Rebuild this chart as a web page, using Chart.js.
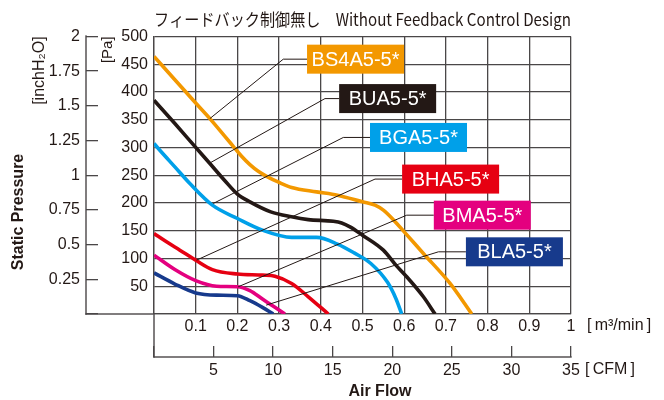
<!DOCTYPE html>
<html>
<head>
<meta charset="utf-8">
<script src="https://cdn.jsdelivr.net/npm/chart.js@4.4.1/dist/chart.umd.min.js"></script>
<style>
  html, body { margin: 0; padding: 0; background: #fff; }
</style>
</head>
<body>
<canvas id="fanChart" width="664" height="400"></canvas>
<script>
// air flow [m3/min] and static pressure [Pa]
const bs4aFlow = [0, 0.05, 0.1, 0.134, 0.17, 0.19, 0.21, 0.23, 0.25, 0.27, 0.30, 0.33, 0.39, 0.44, 0.50, 0.53, 0.55, 0.575, 0.60, 0.646, 0.71, 0.762];
const bs4aPa   = [464, 422, 380, 352, 320, 302, 284, 269, 257, 248, 237, 228, 220, 214, 202, 196, 187, 169, 148, 109, 55, 0];
const buaFlow = [0, 0.05, 0.1, 0.134, 0.17, 0.2, 0.23, 0.28, 0.33, 0.37, 0.43, 0.45, 0.47, 0.5, 0.55, 0.58, 0.606, 0.646, 0.674];
const buaPa   = [385, 343, 300, 271, 240, 216, 202, 184, 175, 170, 167, 164, 157, 142, 115, 88, 67, 31, 0];
const bgaFlow = [0, 0.014, 0.05, 0.086, 0.14, 0.2, 0.26, 0.33, 0.39, 0.44, 0.48, 0.52, 0.56, 0.58, 0.594];
const bgaPa   = [307, 295, 265, 235, 196, 172, 151, 138, 138, 126, 110, 91, 57, 28, 0];
const bhaFlow = [0, 0.03, 0.062, 0.1, 0.14, 0.2, 0.26, 0.29, 0.33, 0.37, 0.418];
const bhaPa   = [145, 130, 115, 97, 80, 72, 70, 68, 55, 31, 0];
const bmaFlow = [0, 0.05, 0.1, 0.15, 0.2, 0.23, 0.26, 0.29, 0.314];
const bmaPa   = [106, 80, 60, 50, 49, 42, 27, 12, 0];
const blaFlow = [0, 0.05, 0.1, 0.15, 0.2, 0.23, 0.26, 0.286];
const blaPa   = [74, 54, 38, 34, 33, 24, 12, 0];

const models = ['BS4A5-5*', 'BUA5-5*', 'BGA5-5*', 'BHA5-5*', 'BMA5-5*', 'BLA5-5*'];
const flows = [bs4aFlow, buaFlow, bgaFlow, bhaFlow, bmaFlow, blaFlow];
const pressures = [bs4aPa, buaPa, bgaPa, bhaPa, bmaPa, blaPa];
const colors = ['#F39800', '#231815', '#00A0E9', '#E60012', '#E4007F', '#173a8c'];

// tag boxes: left edge / elbow in m3/min, height in Pa, leader end on the curve
const tags = [
  { left: 0.367, y: 459, elbow: 0.31, tx: 0.134, ty: 352 },
  { left: 0.444, y: 388, elbow: 0.41, tx: 0.134, ty: 272 },
  { left: 0.518, y: 318, elbow: 0.454, tx: 0.142, ty: 199 },
  { left: 0.595, y: 243, elbow: 0.53, tx: 0.102, ty: 97 },
  { left: 0.671, y: 178, elbow: 0.606, tx: 0.202, ty: 49 },
  { left: 0.748, y: 112, elbow: 0.682, tx: 0.269, ty: 16 }
];

const ink = '#231815';
const gridColor = '#4a4748';
const baseFont = "'Liberation Sans', Arial, sans-serif";

const datasets = models.map((m, i) => ({
  label: m,
  data: flows[i].map((f, k) => ({ x: f, y: pressures[i][k] })),
  borderColor: colors[i],
  borderWidth: 3.6,
  pointRadius: 0,
  cubicInterpolationMode: 'monotone',
  xAxisID: 'x',
  yAxisID: 'y'
}));

const extras = {
  id: 'extras',
  afterDatasetsDraw(chart) {
    const c = chart.ctx;
    const sx = chart.scales.x, sy = chart.scales.y;
    c.save();
    // leader lines and tags
    tags.forEach((t, i) => {
      const bx = sx.getPixelForValue(t.left);
      const by = sy.getPixelForValue(t.y);
      const ex = sx.getPixelForValue(t.elbow);
      c.strokeStyle = ink;
      c.lineWidth = 1;
      c.beginPath();
      c.moveTo(sx.getPixelForValue(t.tx), sy.getPixelForValue(t.ty));
      c.lineTo(ex, by);
      c.lineTo(bx, by);
      c.stroke();
      c.fillStyle = colors[i];
      c.fillRect(bx, by - 14.5, 97, 29);
      c.fillStyle = '#fff';
      c.font = '20px ' + baseFont;
      c.textAlign = 'center';
      c.textBaseline = 'middle';
      c.fillText(models[i], bx + 48.5, by + 1);
    });
    c.restore();
  },
  afterDraw(chart) {
    const c = chart.ctx;
    const area = chart.chartArea;
    const pa = chart.scales.y, cfm = chart.scales.cfm;
    const spineX = Math.round(pa.left) - 12;
    const lineY = cfm.top + 11;
    c.save();
    c.fillStyle = gridColor;
    // inch axis spine
    c.fillRect(spineX - 0.7, Math.round(area.top) - 0.7, 1.4, Math.round(area.bottom - area.top) + 1.4);
    // frame under the plot
    c.fillRect(spineX - 0.7, area.bottom - 0.7, area.left - spineX, 1.4);
    c.fillRect(area.left - 0.7, area.bottom - 0.7, 1.4, lineY - area.bottom + 1.4);
    c.fillRect(area.left - 0.7, lineY - 0.7, area.right - area.left + 1.4, 1.4);

    c.fillStyle = ink;
    c.font = '16px ' + baseFont;
    c.textBaseline = 'middle';
    c.textAlign = 'left';
    c.fillText('[\u2009m\u00b3/min\u2009]', area.right + 16, area.bottom + 12);
    c.fillText('[\u2009CFM\u2009]', area.right + 14, lineY + 13);

    c.font = 'bold 16px ' + baseFont;
    c.textAlign = 'center';
    c.fillText('Air Flow', 380, 392);
    c.translate(19, 212);
    c.rotate(-Math.PI / 2);
    c.fillText('Static Pressure', 0, 0);
    c.restore();
  }
};

const tickFont = { family: baseFont, size: 16 };

new Chart(document.getElementById('fanChart'), {
  type: 'line',
  data: { datasets: datasets },
  plugins: [extras],
  options: {
    responsive: false,
    animation: false,
    layout: { padding: { left: 30, right: 93, top: 0, bottom: 0 } },
    plugins: {
      legend: { display: false },
      tooltip: { enabled: false },
      title: {
        display: true,
        text: 'フィードバック制御無し　Without Feedback Control Design',
        fullSize: false,
        align: 'center',
        color: ink,
        font: { family: "'Liberation Sans Narrow', 'Noto Sans CJK JP', sans-serif", size: 17, weight: 'normal' },
        padding: { top: 9, bottom: 7 }
      }
    },
    scales: {
      x: {
        type: 'linear', position: 'bottom', weight: 0, min: 0, max: 1,
        ticks: {
          stepSize: 0.1, padding: 3, color: ink, font: tickFont, maxRotation: 0, autoSkip: false,
          callback: v => v === 0 ? '' : String(Math.round(v * 10) / 10)
        },
        grid: { color: gridColor, lineWidth: 1.3, drawTicks: false },
        border: { color: gridColor, width: 1.3 },
        afterFit: s => { s.height = 32; }
      },
      cfm: {
        type: 'linear', position: 'bottom', weight: 1, min: 0, max: 35,
        ticks: {
          stepSize: 5, padding: 4, color: ink, font: tickFont, maxRotation: 0,
          callback: v => v === 0 ? '' : String(v)
        },
        grid: { drawOnChartArea: false, drawTicks: true, tickLength: 11, color: gridColor, lineWidth: 1.3 },
        border: { display: false },
        afterFit: s => { s.height = 54; }
      },
      y: {
        type: 'linear', position: 'left', weight: 0, min: 0, max: 500,
        ticks: {
          stepSize: 50, padding: 6, color: ink, font: tickFont,
          callback: v => v === 0 ? '' : String(v)
        },
        grid: { color: gridColor, lineWidth: 1.3, drawTicks: false },
        border: { color: gridColor, width: 1.3 },
        title: { display: true, text: '[Pa]', align: 'end', color: ink, font: { family: baseFont, size: 15 }, padding: { top: 1, bottom: 0 } },
        afterFit: s => { s.width = 56; }
      },
      inch: {
        type: 'linear', position: 'left', weight: 1, min: 0, max: 2,
        ticks: {
          stepSize: 0.25, padding: 6, color: ink, font: tickFont,
          callback: v => v === 0 ? '' : String(Math.round(v * 4) / 4)
        },
        grid: { drawOnChartArea: false, drawTicks: true, tickLength: 12, color: gridColor, lineWidth: 1.3 },
        border: { display: false },
        title: { display: true, text: '[inchH\u2082O]', align: 'end', color: ink, font: { family: baseFont, size: 16 }, padding: 0 },
        afterFit: s => { s.width = 68; }
      }
    }
  }
});
</script>
</body>
</html>
